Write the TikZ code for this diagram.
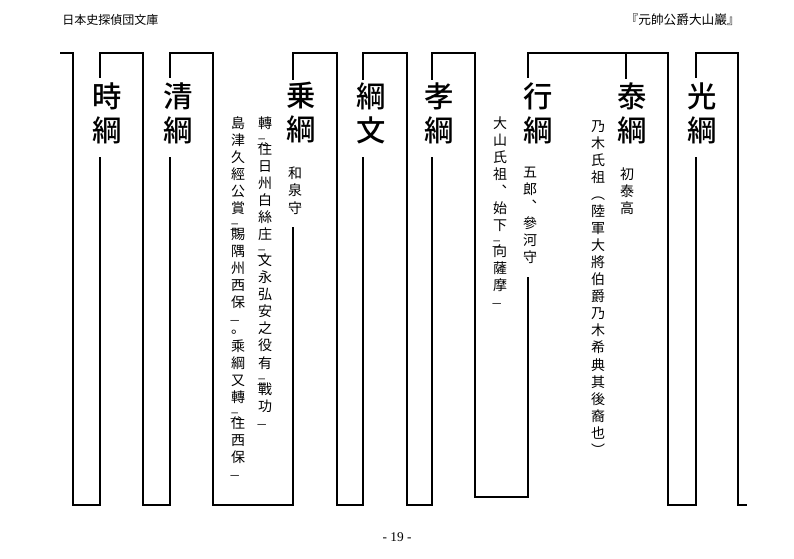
\documentclass[tikz,border=0pt]{standalone}
\usepackage{fontspec}
\setmainfont{Noto Sans CJK JP}
\newfontfamily\bigfont{Noto Sans CJK JP Medium}
\newfontfamily\numfont{Liberation Serif}
\newcommand\K[1]{{\fontsize{7pt}{7pt}\selectfont\hspace*{-5pt}#1}\\[-6pt]}
\tikzset{
  big/.style={inner sep=0pt,anchor=north,align=center,font=\bigfont\fontsize{22pt}{25.5pt}\selectfont},
  sm/.style={inner sep=0pt,anchor=north,align=center,font=\fontsize{10.5pt}{12.8pt}\selectfont},
  ln/.style={line width=0.9pt}
}
\begin{document}
\begin{tikzpicture}[x=0.75pt,y=-0.75pt]
\useasboundingbox (0,0) rectangle (794,559);
% header/footer
\node[inner sep=0pt,anchor=west,font=\fontsize{9pt}{10pt}\selectfont] (hl) at (62,20) {日本史探偵団文庫};
\node[inner sep=0pt,anchor=east,font=\fontsize{9.5pt}{10pt}\selectfont] (hr) at (740,20) {『元帥公爵大山巖』};
\node[inner sep=0pt,font=\numfont\fontsize{10pt}{10pt}\selectfont] (pg) at (397,537) {- 19 -};
% lines
\draw[ln] (60,53) -- (73,53) -- (73,505) -- (100,505) -- (100,157);
\draw[ln] (100,78) -- (100,53) -- (143,53) -- (143,505) -- (170,505) -- (170,157);
\draw[ln] (170,78) -- (170,53) -- (213,53) -- (213,505) -- (293,505) -- (293,227);
\draw[ln] (293,80) -- (293,53) -- (337,53) -- (337,505) -- (363,505) -- (363,157);
\draw[ln] (363,80) -- (363,53) -- (407,53) -- (407,505) -- (432,505) -- (432,157);
\draw[ln] (432,80) -- (432,53) -- (475,53) -- (475,497) -- (528,497) -- (528,277);
\draw[ln] (528,78) -- (528,53) -- (668,53) -- (668,505) -- (696,505) -- (696,157);
\draw[ln] (626,53) -- (626,79);
\draw[ln] (696,78) -- (696,53) -- (738,53) -- (738,505) -- (747,505);
% names
\node[big] (n1) at (107,82) {時\\綱};
\node[big] (n2) at (178,82) {清\\綱};
\node[big] (n3) at (301,82) {乗\\綱};
\node[big] (n4) at (371,82) {綱\\文};
\node[big] (n5) at (439,82) {孝\\綱};
\node[big] (n6) at (538,82) {行\\綱};
\node[big] (n7) at (632,82) {泰\\綱};
\node[big] (n8) at (702,82) {光\\綱};
% notes
\node[sm] (t1) at (295,167) {和\\泉\\守};
\node[sm] (t2) at (265,116) {轉\\\K{二}住\\日\\州\\白\\絲\\庄\\\K{二}文\\永\\弘\\安\\之\\役\\有\\\K{二}戰\\功\\\K{一}};
\node[sm] (t3) at (238,116) {島\\津\\久\\經\\公\\賞\\\K{二}賜\\隅\\州\\西\\保\\\K{一}。\\乘\\綱\\又\\轉\\\K{二}住\\西\\保\\\K{一}};
\node[sm] (t4) at (530,167) {五\\郎\\︑\\參\\河\\守};
\node[sm] (t5) at (500,116) {大\\山\\氏\\祖\\︑\\始\\下\\\K{二}向\\薩\\摩\\\K{一}};
\node[sm] (t6) at (627,167) {初\\泰\\高};
\node[sm] (t7) at (598,120) {乃\\木\\氏\\祖\\︵\\陸\\軍\\大\\將\\伯\\爵\\乃\\木\\希\\典\\其\\後\\裔\\也\\︶};
\end{tikzpicture}
\end{document}
